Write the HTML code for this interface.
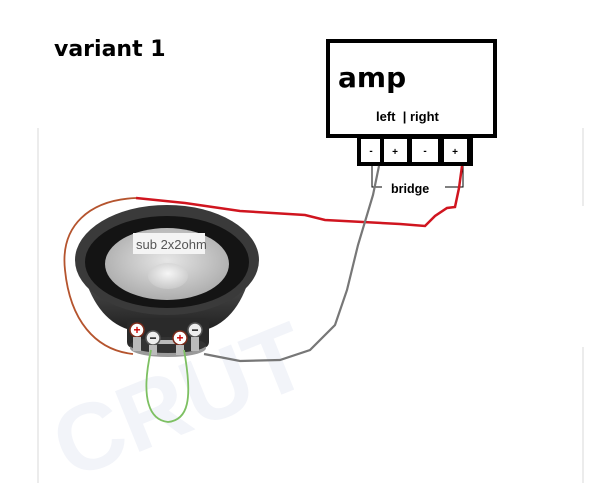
<!DOCTYPE html>
<html><head><meta charset="utf-8"><style>
html,body{margin:0;padding:0;background:#fff;}
body{width:612px;height:483px;position:relative;overflow:hidden;font-family:"Liberation Sans","DejaVu Sans",sans-serif;}
</style></head><body>
<svg width="612" height="483" viewBox="0 0 612 483" xmlns="http://www.w3.org/2000/svg" style="position:absolute;left:0;top:0">
<defs>
<radialGradient id="cone" cx="50%" cy="45%" r="60%"><stop offset="0" stop-color="#e6e6e6"/><stop offset="1" stop-color="#a8a8a8"/></radialGradient>
<radialGradient id="cap" cx="50%" cy="40%" r="60%"><stop offset="0" stop-color="#f6f6f6"/><stop offset="1" stop-color="#c8c8c8"/></radialGradient>
<linearGradient id="basket" x1="0" y1="0" x2="0" y2="1"><stop offset="0" stop-color="#555"/><stop offset="1" stop-color="#222"/></linearGradient>
</defs>
<rect x="37" y="128" width="2" height="355" fill="#ececec"/>
<rect x="582" y="128" width="2" height="78" fill="#ececec"/>
<rect x="582" y="347" width="2" height="136" fill="#ececec"/>
<text x="70" y="480" font-family="Liberation Sans,sans-serif" font-weight="bold" font-size="95" fill="#f2f4f9" transform="rotate(-22 70 480)">CRUT</text>
<text x="54" y="56" font-weight="bold" font-size="22" fill="#000" font-family="DejaVu Sans,sans-serif">variant 1</text>
<rect x="328" y="41" width="167" height="95" fill="#fff" stroke="#000" stroke-width="4"/>
<text x="338" y="87" font-weight="bold" font-size="28" fill="#000" font-family="DejaVu Sans,sans-serif">amp</text>
<text x="376" y="121" font-weight="bold" font-size="13" fill="#000" xml:space="preserve">left  | right</text>
<rect x="357" y="136" width="116" height="30" fill="#000"/>
<rect x="361" y="139" width="19" height="23" fill="#fff"/>
<rect x="384" y="139" width="23" height="23" fill="#fff"/>
<rect x="412" y="139" width="26" height="23" fill="#fff"/>
<rect x="444" y="139" width="23" height="23" fill="#fff"/>
<g font-size="10" font-weight="bold" fill="#000" text-anchor="middle">
<text x="371" y="154">-</text><text x="395" y="155">+</text><text x="425" y="154">-</text><text x="455" y="155">+</text></g>
<path d="M372 166 V187 H382 M445 187 H463 V166" fill="none" stroke="#000" stroke-width="1"/>
<text x="391" y="193" font-weight="bold" font-size="12.5" fill="#000">bridge</text>
<path d="M82 268 Q95 320 130 330 L205 330 Q240 320 252 268 Z" fill="url(#basket)"/>
<rect x="127" y="318" width="82" height="30" rx="6" fill="#2a2a2a"/>
<ellipse cx="168" cy="348" rx="38" ry="9" fill="#9a9a9a"/>
<ellipse cx="168" cy="345" rx="38" ry="8" fill="#333"/>
<ellipse cx="167" cy="260" rx="92" ry="55" fill="#3a3a3a"/>
<ellipse cx="167" cy="262" rx="82" ry="46" fill="#141414"/>
<ellipse cx="167" cy="264" rx="62" ry="36" fill="url(#cone)"/>
<ellipse cx="168" cy="276" rx="20" ry="13" fill="url(#cap)"/>
<rect x="133" y="233" width="72" height="21" fill="#f4f4f4"/>
<text x="136" y="249" font-size="13" fill="#555" font-family="Liberation Sans,sans-serif">sub 2x2ohm</text>
<rect x="150" y="340" width="35" height="4" fill="#bbb"/>
<g stroke="#7a2a1a" stroke-width="1.5">
<circle cx="137" cy="330" r="7" fill="#fff"/><circle cx="180" cy="338" r="7" fill="#fff"/></g>
<g stroke="#555" stroke-width="1.5">
<circle cx="153" cy="338" r="7" fill="#eee"/><circle cx="195" cy="330" r="7" fill="#eee"/></g>
<g font-weight="bold" font-size="12" fill="#c00" text-anchor="middle"><text x="137" y="334">+</text><text x="180" y="342">+</text></g>
<g font-weight="bold" font-size="12" fill="#000" text-anchor="middle"><text x="153" y="342">−</text><text x="195" y="334">−</text></g>
<rect x="133" y="337" width="8" height="14" fill="#bbb"/><rect x="149" y="345" width="8" height="10" fill="#bbb"/>
<rect x="176" y="345" width="8" height="10" fill="#bbb"/><rect x="191" y="337" width="8" height="14" fill="#bbb"/>
<path d="M136 198 C90 200 60 225 65 270 C70 320 95 350 133 354" fill="none" stroke="#b5542e" stroke-width="1.8"/>
<path d="M136 198 L185 203 L240 211 L305 215 L325 220 L400 224 L425 226 L435 216 L447 208 L455 207 L459 188 L462 166" fill="none" stroke="#d0151f" stroke-width="2.5"/>
<path d="M379 166 L373 195 L358 245 L347 290 L335 325 L310 350 L280 360 L240 361 L204 354" fill="none" stroke="#777" stroke-width="2.2"/>
<path d="M151 350 C140 400 150 420 168 422 C188 420 193 400 184 350" fill="none" stroke="#7dc062" stroke-width="1.8"/>
</svg>
</body></html>
